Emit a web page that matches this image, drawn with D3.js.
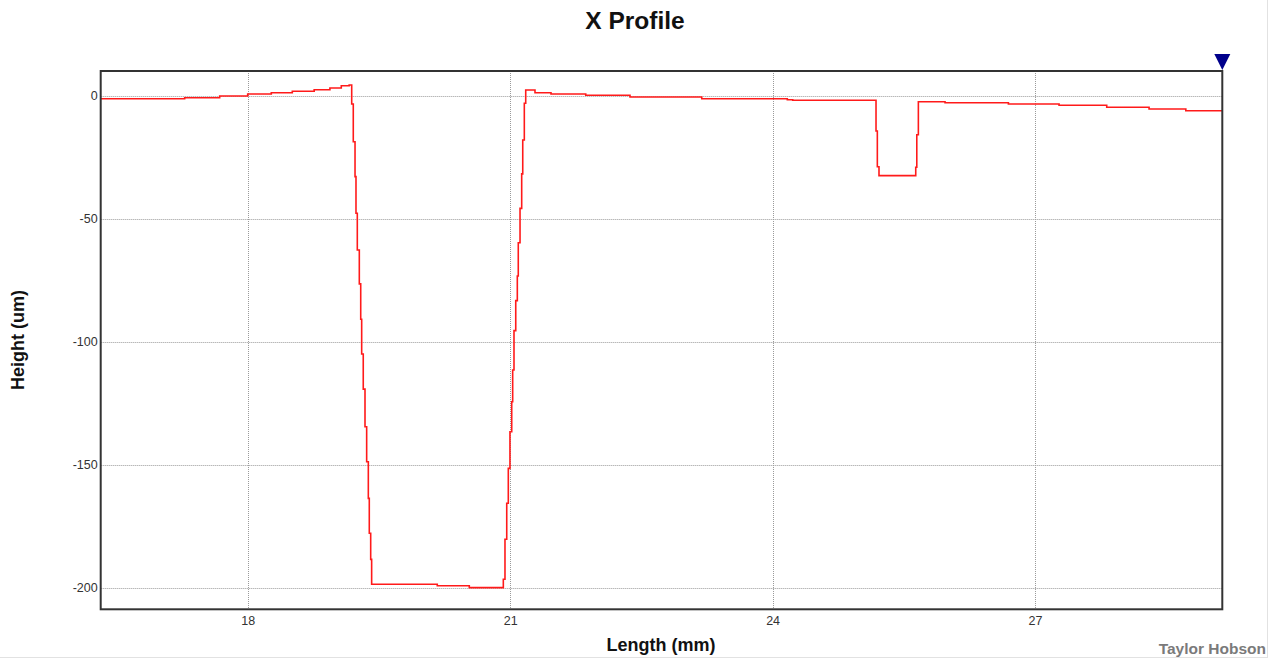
<!DOCTYPE html>
<html>
<head>
<meta charset="utf-8">
<script src="https://cdn.jsdelivr.net/npm/d3@7"></script>
<style>
  html, body { margin: 0; padding: 0; background: #fff; }
  svg { display: block; font-family: "Liberation Sans", Arial, sans-serif; }
</style>
</head>
<body>
<svg id="chart" width="1273" height="659"></svg>
<script>
// Profile samples: position along the trace (mm) and measured height (um)
const lengthMm = [
  16.32, 17.28, 17.68, 18.00, 18.27, 18.51, 18.76, 18.94, 19.07, 19.16,
  19.189, 19.207, 19.227, 19.238, 19.253, 19.276, 19.292, 19.303, 19.321, 19.341,
  19.360, 19.379, 19.390, 19.406, 19.417,
  20.167, 20.533,
  20.922, 20.941, 20.961, 20.979, 20.998, 21.018, 21.029, 21.044, 21.064, 21.082,
  21.093, 21.113, 21.132, 21.144, 21.162, 21.178,
  21.284, 21.467, 21.864, 22.370, 23.190, 24.168, 24.230,
  25.182, 25.197, 25.216, 25.636, 25.648, 25.666,
  25.971, 26.695, 27.274, 27.819, 28.303, 28.723, 29.141
];
const heightUm = [
  -1.22, -0.81, -0.12, 0.69, 1.22, 1.79, 2.44, 3.13, 4.07, 4.35,
  -3.37, -18.7, -32.9, -47.8, -62.7, -76.5, -90.9, -105.0, -119.3, -134.6,
  -148.8, -163.7, -177.9, -188.5, -198.6,
  -199.2, -200.0,
  -196.6, -180.3, -165.7, -151.5, -136.6, -124.4, -111.5, -95.5, -83.3, -73.3,
  -59.8, -45.8, -31.8, -18.0, -3.1, 2.3,
  1.2, 0.69, 0.16, -0.53, -1.22, -1.63, -1.87,
  -14.35, -28.9, -32.5, -29.1, -15.9, -2.44,
  -2.85, -3.37, -3.90, -4.72, -5.41, -6.10, -6.10
];

// Axis ticks
const xTicks = [18, 21, 24, 27];
const yTicks = [0, -50, -100, -150, -200];

const titleText = "X Profile";
const xLabel = "Length (mm)";
const yLabel = "Height (um)";
const brandText = "Taylor Hobson";

const svg = d3.select("#chart");

const plot = { left: 100.7, right: 1222.3, top: 71, bottom: 609.3 };

const x = d3.scaleLinear().domain([16.32, 29.14]).range([plot.left, plot.right]);
const y = d3.scaleLinear().domain([10.04, -208.8]).range([plot.top, plot.bottom]);

// Light outer panel edges
svg.append("line").attr("x1", 0).attr("x2", 1268).attr("y1", 657.5).attr("y2", 657.5)
  .attr("stroke", "#e2e2e2").attr("stroke-width", 1);
svg.append("line").attr("x1", 1267.5).attr("x2", 1267.5).attr("y1", 0).attr("y2", 658)
  .attr("stroke", "#e2e2e2").attr("stroke-width", 1);

// Title
svg.append("text")
  .attr("x", 635).attr("y", 29)
  .attr("text-anchor", "middle")
  .attr("font-size", 24.5).attr("font-weight", "bold").attr("fill", "#111")
  .text(titleText);

// Grid lines
const grid = svg.append("g").attr("class", "grid");
grid.selectAll("line.v").data(xTicks).join("line")
  .attr("class", "v")
  .attr("x1", d => Math.round(x(d)) + 0.5).attr("x2", d => Math.round(x(d)) + 0.5)
  .attr("y1", plot.top).attr("y2", plot.bottom)
  .attr("stroke", "#9a9a9a").attr("stroke-width", 1).attr("stroke-dasharray", "1,1");
grid.selectAll("line.h").data(yTicks).join("line")
  .attr("class", "h")
  .attr("x1", plot.left).attr("x2", plot.right)
  .attr("y1", d => Math.round(y(d)) + 0.5).attr("y2", d => Math.round(y(d)) + 0.5)
  .attr("stroke", "#9a9a9a").attr("stroke-width", 1).attr("stroke-dasharray", "1,1");

// Tick labels via D3 axes (tick marks hidden, plain hyphen for negatives)
const fmt = d => String(d);
const xAxis = d3.axisBottom(x).tickValues(xTicks).tickSize(0).tickPadding(7).tickFormat(fmt);
const yAxis = d3.axisLeft(y).tickValues(yTicks).tickSize(0).tickPadding(3).tickFormat(fmt);

const gx = svg.append("g").attr("transform", `translate(0,${plot.bottom})`).call(xAxis);
const gy = svg.append("g").attr("transform", `translate(${plot.left},0)`).call(yAxis);
[gx, gy].forEach(g => {
  g.select(".domain").remove();
  g.selectAll("text").attr("font-size", 12.5).attr("fill", "#333")
    .attr("font-family", "'Liberation Sans', Arial, sans-serif");
});

// Profile trace
svg.append("clipPath").attr("id", "plotClip").append("rect")
  .attr("x", plot.left).attr("y", plot.top)
  .attr("width", plot.right - plot.left).attr("height", plot.bottom - plot.top);

const pts = lengthMm.map((v, i) => [v, heightUm[i]]);
const line = d3.line()
  .x(d => x(d[0]))
  .y(d => y(d[1]))
  .curve(d3.curveStepAfter);

svg.append("path")
  .datum(pts)
  .attr("clip-path", "url(#plotClip)")
  .attr("fill", "none")
  .attr("stroke", "#ff1a1a")
  .attr("stroke-width", 1.6)
  .attr("stroke-linejoin", "miter")
  .attr("d", line);

// Plot frame
svg.append("rect")
  .attr("x", plot.left).attr("y", plot.top)
  .attr("width", plot.right - plot.left).attr("height", plot.bottom - plot.top)
  .attr("fill", "none").attr("stroke", "#333").attr("stroke-width", 2);

// Cursor marker at the right end of the trace
const mx = x(29.14);
svg.append("path")
  .attr("d", `M${mx - 8},54 L${mx + 8},54 L${mx},70 Z`)
  .attr("fill", "#00008b");

// Axis titles
svg.append("text")
  .attr("x", 661).attr("y", 651)
  .attr("text-anchor", "middle")
  .attr("font-size", 18).attr("font-weight", "bold").attr("fill", "#111")
  .text(xLabel);

svg.append("text")
  .attr("transform", "translate(24,340) rotate(-90)")
  .attr("text-anchor", "middle")
  .attr("font-size", 18).attr("font-weight", "bold").attr("fill", "#111")
  .text(yLabel);

// Brand label
svg.append("text")
  .attr("x", 1266).attr("y", 654)
  .attr("text-anchor", "end")
  .attr("font-size", 15.5).attr("font-weight", "bold").attr("fill", "#7a7a7a")
  .text(brandText);
</script>
</body>
</html>
